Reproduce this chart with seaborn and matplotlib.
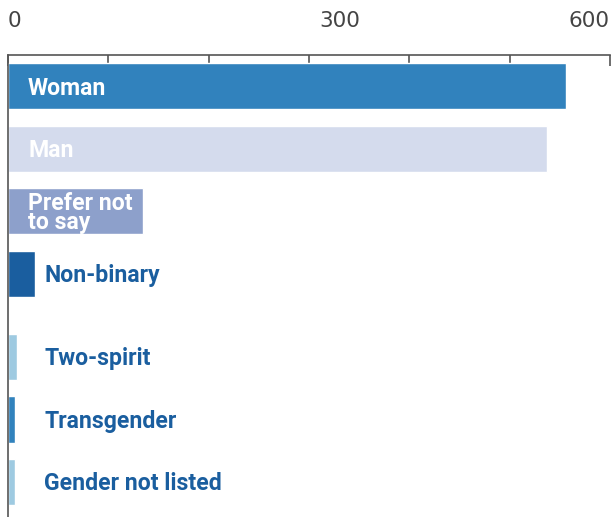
import pandas as pd
import seaborn as sns
import matplotlib.pyplot as plt
import numpy as np
from matplotlib.transforms import ScaledTranslation

# data
genders = ['Woman', 'Man', 'Prefer not\nto say', 'Non-binary',
           'Two-spirit', 'Transgender', 'Gender not listed']
counts = [556, 537, 135, 27, 9, 7, 7]
colors = ['#3182bd', '#d4dbed', '#8da0cb', '#1a5e9f',
          '#9ecae1', '#3182bd', '#9ecae1']
inside = [True, True, True, False, False, False, False]
x_ticks = [0, 300, 600]

sns.set_style('white')
plt.rcParams['font.family'] = ['DejaVu Sans']

# extra space after the first four rows, as in the reference
gap = 0.33
pos = np.arange(len(genders)) + np.where(np.arange(len(genders)) >= 4, gap, 0)
df = pd.DataFrame({'gender': genders, 'count': counts, 'pos': pos})

fig = plt.figure(figsize=(6.11, 5.17), dpi=100)
ax = fig.add_axes([8 / 611, 0, 602 / 611, 1 - 55 / 517])

sns.barplot(data=df, x='count', y='pos', hue='gender', palette=colors,
            orient='h', native_scale=True, width=0.74, legend=False,
            saturation=1, ax=ax)

ax.set_xlim(0, 600)
ax.set_ylim(pos[-1] + 0.56, -0.5)
ax.set_axisbelow(True)

ax.xaxis.tick_top()
ax.set_xticks(np.arange(0, 601, 100))
ax.set_xticklabels(['' if v not in x_ticks else str(v) for v in range(0, 601, 100)])
ax.tick_params(axis='x', direction='in', length=8, width=1.2, color='#555555',
               labelsize=15.5, labelcolor='#444444', pad=17)
labels = ax.get_xticklabels()
labels[0].set_ha('left')
labels[3].set_ha('left')
labels[3].set_transform(labels[3].get_transform() + ScaledTranslation(10 / 100, 0, fig.dpi_scale_trans))
labels[6].set_ha('right')

ax.set_yticks(pos)
ax.set_yticklabels([])
ax.tick_params(axis='y', direction='in', length=15, width=1.2, color='#555555')
ax.set_xlabel('')
ax.set_ylabel('')

for s in ['right', 'bottom']:
    ax.spines[s].set_visible(False)
for s in ['top', 'left']:
    ax.spines[s].set_color('#555555')
    ax.spines[s].set_linewidth(1.2)

shift = ax.transData + ScaledTranslation(0, -2 / 100, fig.dpi_scale_trans)
for p, g, ins in zip(pos, genders, inside):
    if ins:
        ax.text(20, p, g, va='center', ha='left', color='white', fontsize=16.6,
                fontweight='bold', family='Roboto', linespacing=0.78,
                transform=shift)
    else:
        ax.text(36, p, g, va='center', ha='left', color='#1a5e9f', fontsize=16.6,
                fontweight='bold', family='Roboto', transform=shift)

fig.savefig('out.png', dpi=100)
